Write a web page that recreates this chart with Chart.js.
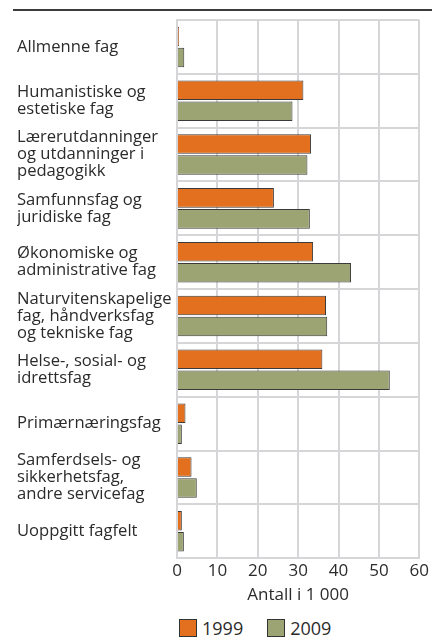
<!DOCTYPE html>
<html>
<head>
<meta charset="utf-8">
<script src="https://cdn.jsdelivr.net/npm/chart.js@4.4.1/dist/chart.umd.min.js"></script>
<style>
  html, body { margin: 0; padding: 0; background: #fff; }
  #wrap { position: relative; width: 432px; height: 639px; overflow: hidden; font-family: "Open Sans", sans-serif; color: #2b2b2b; }
  #rule { position: absolute; left: 13px; right: 0; top: 9px; height: 0; border-top: 2px solid #3c3c3c; }
  #box { position: absolute; left: 0; top: 0; width: 432px; height: 605px; }
  #legend { position: absolute; left: 179px; top: 616px; display: flex; align-items: center; font-size: 18px; }
  #legend .item { display: flex; align-items: center; margin-right: 24px; }
  #legend .sw { width: 18px; height: 18px; box-sizing: border-box; border: 1px solid #333; margin-right: 5px; }
</style>
</head>
<body>
<div id="wrap">
  <div id="rule"></div>
  <div id="box"><canvas id="chart"></canvas></div>
  <div id="legend"></div>
</div>
<script>
// Fagfelt (kategorier)
const categories = [
    ["Allmenne fag"],
    ["Humanistiske og", "estetiske fag"],
    ["Lærerutdanninger", "og utdanninger i", "pedagogikk"],
    ["Samfunnsfag og", "juridiske fag"],
    ["Økonomiske og", "administrative fag"],
    ["Naturvitenskapelige", "fag, håndverksfag", "og tekniske fag"],
    ["Helse-, sosial- og", "idrettsfag"],
    ["Primærnæringsfag"],
    ["Samferdsels- og", "sikkerhetsfag,", "andre servicefag"],
    ["Uoppgitt fagfelt"]
];

// Antall i 1 000
const values1999 = [0.5, 31.3, 33.2, 24.0, 33.7, 36.9, 36.0, 2.1, 3.6, 1.2];
const values2009 = [1.8, 28.6, 32.3, 32.9, 43.1, 37.2, 52.7, 1.2, 4.9, 1.7];

const seriesLabels = ["1999", "2009"];
const xTicks = [0, 10, 20, 30, 40, 50, 60];

const colors = ["#e3701e", "#9da474"];
const gridColor = "#d6d6d8";
const textColor = "#2b2b2b";

const ctx = document.getElementById("chart").getContext("2d");
const chart = new Chart(ctx, {
    type: "bar",
    data: {
        labels: categories,
        datasets: [{
            label: seriesLabels[0],
            data: values1999,
            backgroundColor: colors[0],
            borderColor: "#3a3a3a",
            borderWidth: 1
        }, {
            label: seriesLabels[1],
            data: values2009,
            backgroundColor: colors[1],
            borderColor: "#3a3a3a",
            borderWidth: 1
        }]
    },
    options: {
        indexAxis: "y",
        responsive: true,
        maintainAspectRatio: false,
        animation: false,
        categoryPercentage: 0.78,
        barPercentage: 0.93,
        layout: { padding: { left: 17, right: 12, top: 20, bottom: 0 } },
        plugins: {
            legend: { display: false },
            tooltip: { enabled: false }
        },
        scales: {
            x: {
                min: xTicks[0],
                max: xTicks[xTicks.length - 1],
                afterBuildTicks: (axis) => { axis.ticks = xTicks.map(v => ({ value: v })); },
                grid: { color: gridColor, lineWidth: 2, drawTicks: false },
                border: { color: gridColor, width: 2 },
                ticks: { color: textColor, font: { family: "Open Sans", size: 17 }, padding: 3 },
                title: {
                    display: true,
                    text: "Antall i 1 000",
                    color: textColor,
                    font: { family: "Open Sans", size: 17 },
                    padding: { top: 0, bottom: 0 }
                }
            },
            y: {
                afterFit: (axis) => { axis.width = 160; },
                grid: { color: gridColor, lineWidth: 2, drawTicks: false },
                border: { color: gridColor, width: 2 },
                ticks: {
                    color: textColor,
                    crossAlign: "far",
                    padding: 0,
                    font: { family: "Open Sans", size: 16.6, lineHeight: 1.02 }
                }
            }
        }
    }
});

// Forklaring
const legend = document.getElementById("legend");
chart.data.datasets.forEach(ds => {
    const item = document.createElement("div");
    item.className = "item";
    item.innerHTML = `<span class="sw" style="background:${ds.backgroundColor}"></span><span>${ds.label}</span>`;
    legend.appendChild(item);
});
</script>
</body>
</html>
